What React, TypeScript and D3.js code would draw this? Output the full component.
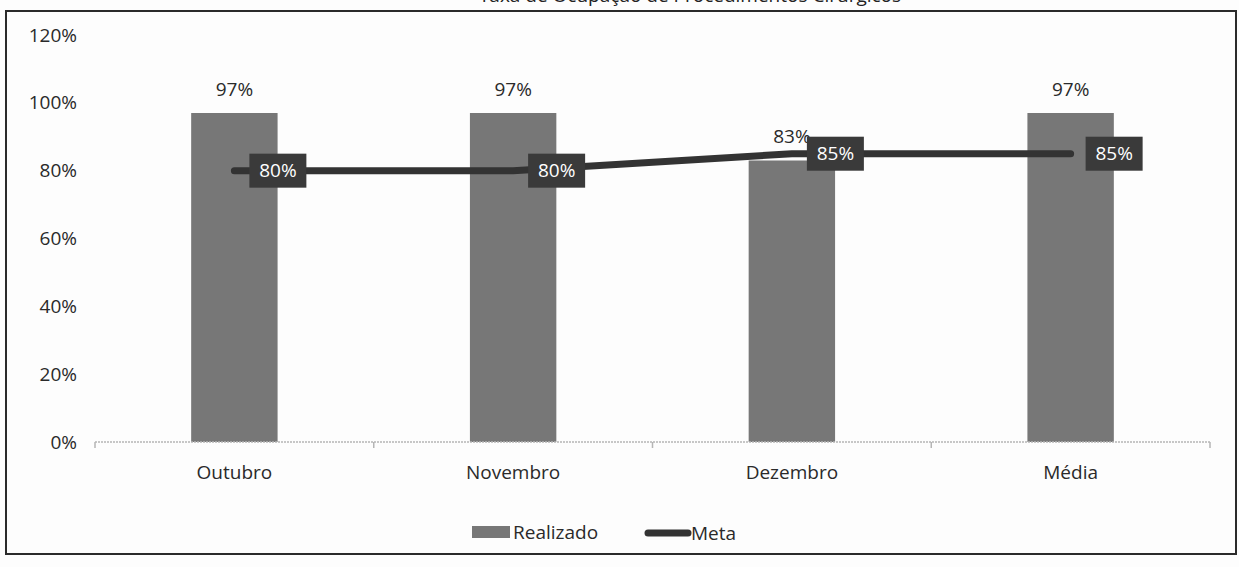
import React, { useEffect, useRef } from "react";
import * as d3 from "d3";

const categories = ["Outubro", "Novembro", "Dezembro", "Média"];
const realizado = [97, 97, 83, 97];
const meta = [80, 80, 85, 85];
const yTicks = [0, 20, 40, 60, 80, 100, 120];
const title = "Taxa de Ocupação de Procedimentos Cirúrgicos";

const W = 1239;
const H = 567;
const FONT = "'Open Sans', 'Noto Sans', sans-serif";

export default function App() {
  const ref = useRef<SVGSVGElement | null>(null);

  useEffect(() => {
    const svg = d3.select(ref.current);
    svg.selectAll("*").remove();

    const x = d3.scaleBand<string>().domain(categories).range([95, 1210]);
    const y = d3.scaleLinear().domain([0, 120]).range([442, 35]);
    const barW = x.bandwidth() * 0.31;
    const cx = (c: string) => (x(c) as number) + x.bandwidth() / 2;

    svg.append("rect").attr("width", W).attr("height", H).attr("fill", "#fdfdfd");

    // frame
    svg.append("rect")
      .attr("x", 6).attr("y", 11).attr("width", 1230).attr("height", 543)
      .attr("fill", "none").attr("stroke", "#2b2b2b").attr("stroke-width", 2);

    // title, cut by the top edge of the scan as in the source
    svg.append("text")
      .attr("x", 690).attr("y", 2)
      .attr("text-anchor", "middle")
      .attr("font-family", FONT).attr("font-size", 19).attr("fill", "#222")
      .text(title);

    // y tick labels
    svg.append("g").selectAll("text")
      .data(yTicks).join("text")
      .attr("x", 77).attr("y", d => y(d))
      .attr("dy", "0.35em")
      .attr("text-anchor", "end")
      .attr("font-family", FONT).attr("font-size", 19).attr("fill", "#2a2a2a")
      .text(d => d + "%");

    // bars
    svg.append("g").selectAll("rect")
      .data(categories).join("rect")
      .attr("x", d => cx(d) - barW / 2)
      .attr("y", (d, i) => y(realizado[i]))
      .attr("width", barW)
      .attr("height", (d, i) => y(0) - y(realizado[i]))
      .attr("fill", "#777");

    // bar labels
    svg.append("g").selectAll("text")
      .data(categories).join("text")
      .attr("x", d => cx(d))
      .attr("y", (d, i) => y(realizado[i]) - 17)
      .attr("text-anchor", "middle")
      .attr("font-family", FONT).attr("font-size", 19).attr("fill", "#2a2a2a")
      .text((d, i) => realizado[i] + "%");

    // x axis baseline
    const axis = svg.append("g");
    axis.append("line")
      .attr("x1", 95).attr("x2", 1210).attr("y1", y(0)).attr("y2", y(0))
      .attr("stroke", "#b5b5b5").attr("stroke-width", 1.5).attr("stroke-dasharray", "2,1");
    axis.selectAll("line.tick")
      .data([...categories.map(c => x(c) as number), 1210]).join("line")
      .attr("class", "tick")
      .attr("x1", d => d).attr("x2", d => d)
      .attr("y1", y(0)).attr("y2", y(0) + 6)
      .attr("stroke", "#b5b5b5").attr("stroke-width", 1.5);

    // category labels
    svg.append("g").selectAll("text")
      .data(categories).join("text")
      .attr("x", d => cx(d)).attr("y", 472)
      .attr("dy", "0.35em")
      .attr("text-anchor", "middle")
      .attr("font-family", FONT).attr("font-size", 19).attr("fill", "#2a2a2a")
      .text(d => d);

    // meta line
    const line = d3.line<number>()
      .x((d, i) => cx(categories[i]))
      .y(d => y(d));
    svg.append("path")
      .datum(meta)
      .attr("d", line)
      .attr("fill", "none").attr("stroke", "#333").attr("stroke-width", 7)
      .attr("stroke-linecap", "round").attr("stroke-linejoin", "round");

    // meta labels
    const ml = svg.append("g").selectAll("g")
      .data(categories).join("g")
      .attr("transform", (d, i) => `translate(${cx(d) + 15},${y(meta[i])})`);
    ml.append("rect")
      .attr("x", 0).attr("y", -17).attr("width", 57).attr("height", 34)
      .attr("fill", "#3a3a3a");
    ml.append("text")
      .attr("x", 28.5).attr("y", 0).attr("dy", "0.35em")
      .attr("text-anchor", "middle")
      .attr("font-family", FONT).attr("font-size", 19).attr("fill", "#fff")
      .text((d, i) => meta[i] + "%");

    // legend
    const lg = svg.append("g");
    lg.append("rect")
      .attr("x", 472).attr("y", 526).attr("width", 38).attr("height", 12)
      .attr("fill", "#777");
    lg.append("text")
      .attr("x", 513).attr("y", 532).attr("dy", "0.35em")
      .attr("font-family", FONT).attr("font-size", 19).attr("fill", "#2a2a2a")
      .text("Realizado");
    lg.append("line")
      .attr("x1", 648).attr("x2", 688).attr("y1", 533).attr("y2", 533)
      .attr("stroke", "#333").attr("stroke-width", 7).attr("stroke-linecap", "round");
    lg.append("text")
      .attr("x", 691).attr("y", 533).attr("dy", "0.35em")
      .attr("font-family", FONT).attr("font-size", 19).attr("fill", "#2a2a2a")
      .text("Meta");
  }, []);

  return (
    <svg
      ref={ref}
      width={W}
      height={H}
      style={{ position: "absolute", left: 0, top: 0, display: "block" }}
    />
  );
}
